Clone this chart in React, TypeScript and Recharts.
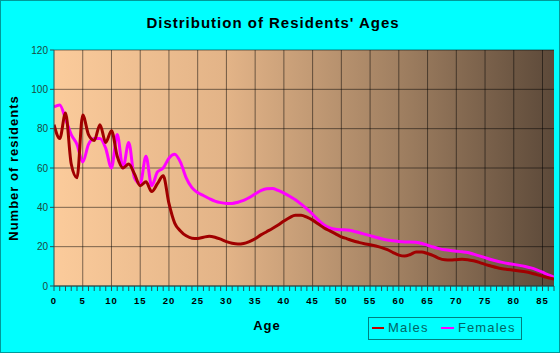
import React from 'react';
import { LineChart, Line, XAxis, YAxis, CartesianGrid, ReferenceLine } from 'recharts';

const ages = [
  0, 1, 2, 3, 4, 5, 6, 7, 8, 9, 10, 11, 12, 13, 14, 15, 16, 17, 18, 19, 20, 21, 22, 23, 24, 25, 26, 27, 28, 29,
  30, 31, 32, 33, 34, 35, 36, 37, 38, 39, 40, 41, 42, 43, 44, 45, 46, 47, 48, 49, 50, 51, 52, 53, 54, 55, 56, 57, 58, 59,
  60, 61, 62, 63, 64, 65, 66, 67, 68, 69, 70, 71, 72, 73, 74, 75, 76, 77, 78, 79, 80, 81, 82, 83, 84, 85, 86, 87,
];

const males = [
  82, 75, 88, 62, 55, 87, 77, 74, 82, 73, 79, 66, 60, 62, 57, 51, 53, 48, 52, 56, 42, 32, 28, 25.5, 24.3, 24.2, 24.8, 25.3, 24.8, 23.8,
  22.6, 21.7, 21.3, 21.6, 22.6, 24, 26, 27.6, 29.2, 31, 33, 34.8, 36, 36, 35, 33.5, 31.5, 29.5, 28, 26.5, 25, 24, 23, 22.2, 21.5, 21, 20.3, 19.5, 18.5, 17,
  15.7, 15.2, 16, 17.3, 17.3, 16.5, 15.5, 14, 13.3, 13.2, 13.4, 13.6, 13.4, 12.8, 12, 11, 10.2, 9.4, 8.8, 8.4, 8, 7.6, 7.2, 6.6, 5.8, 5, 4.2, 3.5,
];

const females = [
  91, 92, 85, 77, 72, 63, 72, 75, 75, 70, 60, 77, 60, 73, 55, 52, 66, 51, 58, 60, 65, 67, 63, 55, 50, 47.5, 46, 44.5, 43.2, 42.4,
  42, 42, 42.6, 43.5, 45, 46.8, 48.5, 49.5, 49.6, 48.6, 47.2, 45.6, 43.8, 41.6, 39.2, 36.5, 33.5, 31, 29.5, 28.8, 28.6, 28.5, 28, 27.2, 26.4, 25.6, 24.8, 24, 23.4, 23,
  22.6, 22.4, 22.4, 22.2, 21.6, 20.7, 19.8, 19, 18.4, 18, 17.7, 17.4, 17, 16.2, 15.3, 14.4, 13.5, 12.7, 12, 11.4, 11, 10.5, 9.9, 9.2, 8.2, 7, 5.6, 4.5,
];

const yTicks = [0, 20, 40, 60, 80, 100, 120];
const xGrid = [5, 10, 15, 20, 25, 30, 35, 40, 45, 50, 55, 60, 65, 70, 75, 80, 85];

const data = ages.map((a, i) => ({ age: a, Males: males[i], Females: females[i] }));

const FONT = '"Liberation Sans", Arial, sans-serif';

const XTick = (props: any) => {
  const { x, y, payload } = props;
  if (payload.value % 5 !== 0) return <g />;
  return (
    <text x={x} y={y + 11} textAnchor="middle" fontFamily={FONT} fontSize={9.5} fontWeight="bold" fill="#000" letterSpacing={1}>
      {payload.value}
    </text>
  );
};

const YTick = (props: any) => {
  const { x, y, payload } = props;
  return (
    <text x={x} y={y + 3.5} textAnchor="end" fontFamily={FONT} fontSize={10} fill="#1c4a40">
      {payload.value}
    </text>
  );
};

export default function App() {
  return (
    <div style={{ position: 'absolute', left: 0, top: 0, width: 560, height: 353, background: '#00FFFF', border: '1px solid #009a9a', boxSizing: 'border-box', fontFamily: FONT }}>
      <div style={{ position: 'absolute', left: -1, top: -1 }}>
        <LineChart width={560} height={353} data={data} margin={{ top: 50, right: 6, left: 0, bottom: 0 }}>
          <defs>
            <linearGradient id="bgGrad" x1="0" y1="0" x2="1" y2="0">
              <stop offset="0%" stopColor="#FBCB9B" />
              <stop offset="35%" stopColor="#E2B387" />
              <stop offset="70%" stopColor="#9E7E60" />
              <stop offset="100%" stopColor="#5C4939" />
            </linearGradient>
          </defs>
          <CartesianGrid vertical={false} fill="url(#bgGrad)" fillOpacity={1} stroke="#000" strokeOpacity={0.5} />
          {xGrid.map((v) => (
            <ReferenceLine key={v} x={v} stroke="#000" strokeOpacity={0.5} ifOverflow="hidden" />
          ))}
          <XAxis
            dataKey="age"
            type="number"
            domain={[0, 87]}
            ticks={ages}
            interval={0}
            tick={<XTick />}
            tickSize={5}
            tickLine={{ stroke: '#2a5050' }}
            axisLine={{ stroke: '#2a5050' }}
            height={67}
            allowDataOverflow
          />
          <YAxis
            type="number"
            domain={[0, 120]}
            ticks={yTicks}
            interval={0}
            tick={<YTick />}
            tickSize={4}
            tickLine={{ stroke: '#2a5050' }}
            axisLine={{ stroke: '#2a5050' }}
            width={54}
          />
          <Line type="monotone" dataKey="Females" stroke="#FF00FF" strokeWidth={3} dot={false} isAnimationActive={false} />
          <Line type="monotone" dataKey="Males" stroke="#A00000" strokeWidth={3} dot={false} isAnimationActive={false} />
        </LineChart>
      </div>
      <div style={{ position: 'absolute', left: 0, width: 544, top: 13, textAlign: 'center', fontSize: 15, fontWeight: 'bold', letterSpacing: 1, color: '#000', whiteSpace: 'nowrap' }}>
        Distribution of Residents' Ages
      </div>
      <div style={{ position: 'absolute', left: 12, top: 167, width: 0, height: 0 }}>
        <div style={{ position: 'absolute', left: 0, top: 0, transform: 'translate(-50%, -50%) rotate(-90deg)', fontSize: 13, fontWeight: 'bold', letterSpacing: 1, color: '#000', whiteSpace: 'nowrap' }}>
          Number of residents
        </div>
      </div>
      <div style={{ position: 'absolute', left: 266, top: 324, width: 0, height: 0 }}>
        <div style={{ position: 'absolute', transform: 'translate(-50%, -50%)', fontSize: 13, fontWeight: 'bold', letterSpacing: 1, color: '#000', whiteSpace: 'nowrap' }}>
          Age
        </div>
      </div>
      <div style={{ position: 'absolute', left: 367, top: 316, width: 154, height: 23, border: '1px solid #008080', boxSizing: 'border-box' }}>
        <div style={{ position: 'absolute', left: 3, top: 9, width: 12, height: 2, background: '#C00000' }} />
        <div style={{ position: 'absolute', left: 19, top: 2, fontSize: 13, letterSpacing: 1.2, color: '#006666', whiteSpace: 'nowrap' }}>Males</div>
        <div style={{ position: 'absolute', left: 72, top: 9, width: 13, height: 2, background: '#FF00FF' }} />
        <div style={{ position: 'absolute', left: 89, top: 2, fontSize: 13, letterSpacing: 1.1, color: '#006666', whiteSpace: 'nowrap' }}>Females</div>
      </div>
    </div>
  );
}
